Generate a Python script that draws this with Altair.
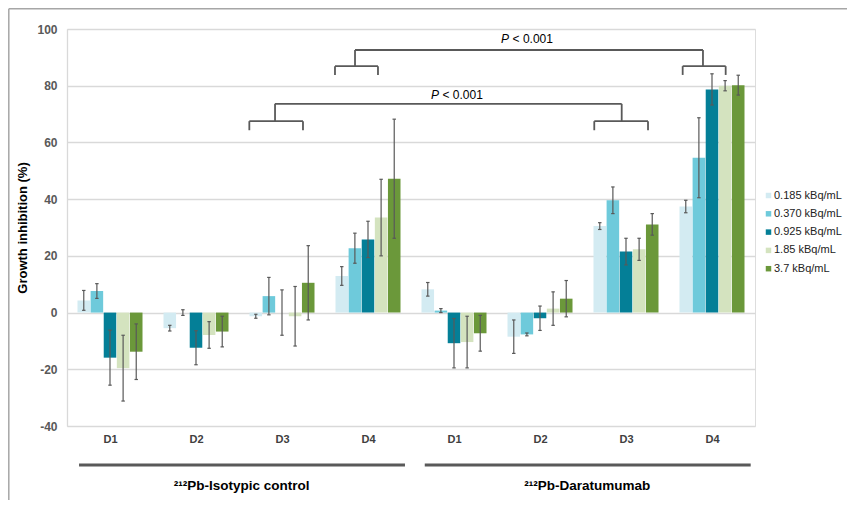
import json
import altair as alt
import pandas as pd

# ---------------- data ----------------
groups = ["D1", "D2", "D3", "D4", "D1", "D2", "D3", "D4"]
series = ["0.185 kBq/mL", "0.370 kBq/mL", "0.925 kBq/mL", "1.85 kBq/mL", "3.7 kBq/mL"]
colors = ["#d3ebf2", "#6ecadb", "#047f97", "#d4e3bf", "#6b983a"]

v_0185 = [4.3, -5.5, -1.3, 12.9, 8.2, -8.5, 30.5, 37.4]
v_0370 = [7.6, 0.0, 5.8, 22.7, 0.7, -7.7, 39.6, 54.6]
v_0925 = [-15.9, -12.4, 0.0, 25.8, -10.8, -2.0, 21.5, 78.7]
v_185 = [-19.6, -7.9, -1.3, 33.5, -10.4, 1.4, 22.3, 80.0]
v_37 = [-13.8, -6.7, 10.5, 47.2, -7.3, 4.9, 31.1, 80.2]

e_0185 = [3.5, 1.0, 0.7, 3.3, 2.4, 5.9, 1.2, 2.2]
e_0370 = [2.6, 1.0, 6.6, 5.3, 0.7, 0.5, 4.7, 14.1]
e_0925 = [9.7, 6.0, 8.0, 6.4, 8.7, 4.3, 4.7, 5.5]
e_185 = [11.6, 4.7, 10.5, 13.5, 9.1, 5.9, 3.9, 1.8]
e_37 = [9.8, 5.4, 13.1, 21.0, 6.3, 6.4, 3.8, 3.5]

values = [v_0185, v_0370, v_0925, v_185, v_37]
errors = [e_0185, e_0370, e_0925, e_185, e_37]

treatments = ["\u00b2\u00b9\u00b2Pb-Isotypic control", "\u00b2\u00b9\u00b2Pb-Daratumumab"]
treat_start = [0.14, 4.16]
treat_end = [3.93, 7.95]
treat_mid = [2.03, 6.05]

# significance brackets (x in group units, y in %)
br_sub_left_a = [3.116, 7.159, 2.12, 6.131]
br_sub_right_b = [3.616, 7.659, 2.744, 6.756]
br_stem = [3.349, 7.395, 2.419, 6.45]
br_top_y = [92.6, 92.6, 73.6, 73.6]
br_sub_y = [86.9, 86.9, 67.5, 67.5]
br_leg_y = [83.8, 83.8, 64.3, 64.3]
p_text_x = [5.35, 4.535]
p_text_y = [96.4, 76.7]

BAR_STEP = 0.1525
BAR_W = 0.146
CAP = 0.02

rows = []
for j, s in enumerate(series):
    for i, g in enumerate(groups):
        c = i + 0.5 + (j - 2) * BAR_STEP
        v = values[j][i]
        e = errors[j][i]
        rows.append(dict(series=s, group=g, x=c - BAR_W / 2, x2=c + BAR_W / 2, xc=c,
                         cl=c - CAP, cr=c + CAP, v=v, zero=0, lo=v - e, hi=v + e))
df = pd.DataFrame(rows)

segs = []
for k in range(0, 4, 2):
    l, r = k, k + 1
    segs.append(dict(a=br_stem[l], b=br_stem[r], y1=br_top_y[l], y2=br_top_y[l]))
    for m in (l, r):
        segs.append(dict(a=br_stem[m], b=br_stem[m], y1=br_sub_y[m], y2=br_top_y[m]))
        segs.append(dict(a=br_sub_left_a[m], b=br_sub_right_b[m], y1=br_sub_y[m], y2=br_sub_y[m]))
        segs.append(dict(a=br_sub_left_a[m], b=br_sub_left_a[m], y1=br_leg_y[m], y2=br_sub_y[m]))
        segs.append(dict(a=br_sub_right_b[m], b=br_sub_right_b[m], y1=br_leg_y[m], y2=br_sub_y[m]))
seg_df = pd.DataFrame(segs)
p_df = pd.DataFrame(dict(x=p_text_x, y=p_text_y))
t_df = pd.DataFrame(dict(label=treatments, start=treat_start, end=treat_end, mid=treat_mid))

# ---------------- scales / axes ----------------
FONT = "Liberation Sans"
GREY = "#595959"

xscale = alt.Scale(domain=[0, 8], nice=False, zero=False)
yscale = alt.Scale(domain=[-40, 100], nice=False)

label_expr = json.dumps(groups) + "[floor(datum.value)]"
xaxis = alt.Axis(values=[i + 0.5 for i in range(8)], labelExpr=label_expr, title=None,
                 grid=False, ticks=False, domain=False, labelPadding=7,
                 labelFontSize=11, labelFontWeight="bold", labelColor="#404040",
                 labelFont=FONT)
yaxis = alt.Axis(values=list(range(-40, 101, 20)), title="Growth inhibition (%)",
                 labelExpr="'' + datum.value",
                 grid=True, gridColor="#d9d9d9", gridWidth=1.3,
                 domain=True, domainColor="#d9d9d9", domainWidth=1.3,
                 ticks=False, labelPadding=10, labelFontSize=12, labelFontWeight="bold",
                 labelColor=GREY, labelFont=FONT, titleFont=FONT, titleFontSize=13,
                 titleFontWeight="bold", titleColor="#000000", titlePadding=7)


def X(f):
    return alt.X(f, type="quantitative", scale=xscale, axis=xaxis)


def Y(f):
    return alt.Y(f, type="quantitative", scale=yscale, axis=yaxis)


bars = alt.Chart(df).mark_bar().encode(
    x=X("x"), x2="x2", y=Y("v"), y2="zero",
    color=alt.Color("series:N", scale=alt.Scale(domain=series, range=colors),
                    legend=alt.Legend(title=None, orient="none", legendX=696, legendY=161,
                                      symbolType="square", symbolSize=30, symbolStrokeWidth=0,
                                      labelFontSize=11, labelFont=FONT, labelColor="#222222",
                                      rowPadding=6.3, labelOffset=0, padding=0, labelLimit=200)),
)

err = alt.Chart(df).mark_rule(color=GREY, strokeWidth=1.2).encode(x=X("xc"), y=Y("lo"), y2="hi")
cap_lo = alt.Chart(df).mark_rule(color=GREY, strokeWidth=1.2).encode(x=X("cl"), x2="cr", y=Y("lo"))
cap_hi = alt.Chart(df).mark_rule(color=GREY, strokeWidth=1.2).encode(x=X("cl"), x2="cr", y=Y("hi"))

brackets = alt.Chart(seg_df).mark_rule(color=GREY, strokeWidth=1.8).encode(
    x=X("a"), x2="b", y=Y("y1"), y2="y2")

p_it = alt.Chart(p_df).mark_text(text="P", fontStyle="italic", fontSize=12, font=FONT,
                                 align="right", baseline="middle", dx=-18, color="#000000").encode(
    x=X("x"), y=Y("y"))
p_rest = alt.Chart(p_df).mark_text(text="< 0.001", fontSize=12, font=FONT,
                                   align="left", baseline="middle", dx=-14.5, color="#000000").encode(
    x=X("x"), y=Y("y"))

t_lines = alt.Chart(t_df).mark_rule(color=GREY, strokeWidth=3).encode(
    x=X("start"), x2="end", y=alt.value(436))
t_text = alt.Chart(t_df).mark_text(fontSize=13.5, fontWeight="bold", font=FONT,
                                   baseline="middle", color="#000000").encode(
    x=X("mid"), y=alt.value(457), text="label:N")

one = pd.DataFrame({"a": [0]})
frame_left = alt.Chart(one).mark_rule(color="#a6a6a6", strokeWidth=1.5).encode(
    x=alt.value(-58.2), y=alt.value(-20.2), y2=alt.value(471))
frame_top = alt.Chart(one).mark_rule(color="#a6a6a6", strokeWidth=1.5).encode(
    x=alt.value(-58.2), x2=alt.value(780), y=alt.value(-20.2))

chart = alt.layer(bars, err, cap_lo, cap_hi, brackets, p_it, p_rest, t_lines, t_text,
                  frame_left, frame_top).properties(
    width=688, height=397,
    padding={"left": 59, "top": 21, "right": 92, "bottom": 74},
    autosize=alt.AutoSizeParams(type="none"),
).configure_view(stroke=None).configure(font=FONT)

chart.save("out.html", embed_options={"renderer": "svg", "actions": False})
